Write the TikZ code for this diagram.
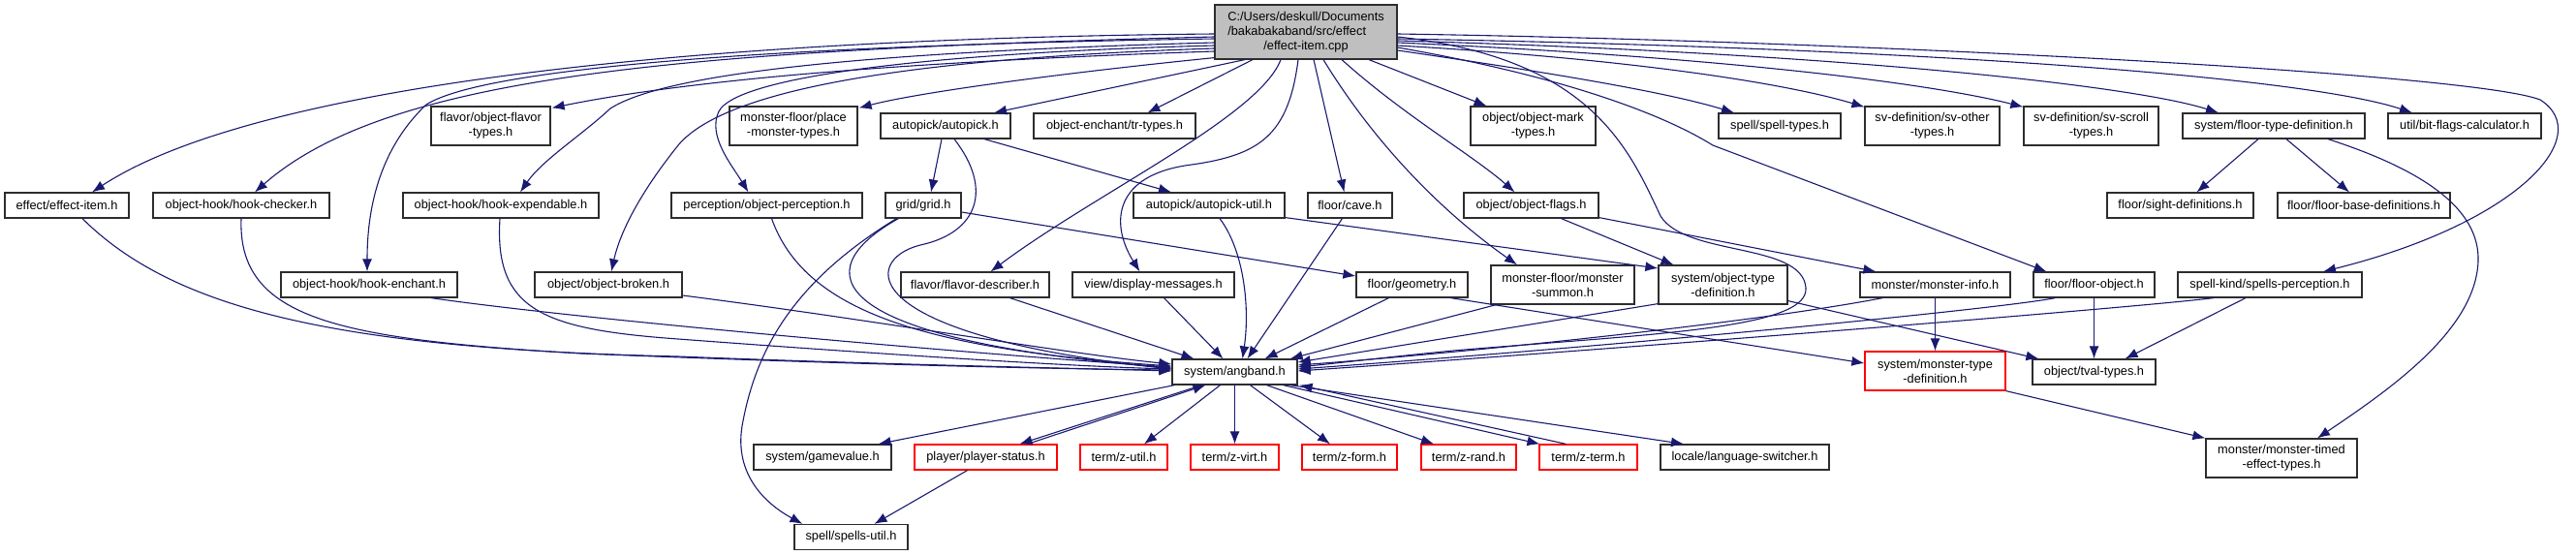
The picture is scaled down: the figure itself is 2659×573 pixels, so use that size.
\documentclass[tikz,border=0pt]{standalone}
\usepackage{fontspec}
\setmainfont{Liberation Sans}
\usetikzlibrary{calc,arrows.meta}
\definecolor{edgec}{RGB}{25,25,112}
\definecolor{boxline}{RGB}{45,45,45}
\definecolor{redline}{RGB}{255,0,0}
\definecolor{mainfill}{RGB}{191,191,191}
\newcommand{\dxfont}{\fontsize{12.8}{15}\selectfont}
\begin{document}
\begin{tikzpicture}[x=1pt,y=-1pt,
 box/.style={draw=boxline, line width=1.2pt, fill=white, inner sep=0pt, font=\dxfont, align=center, minimum height=26pt},
 tall/.style={minimum height=40pt},
 redbox/.style={box, draw=redline},
 dep/.style={draw=edgec, line width=1.1pt, -{Latex[length=13pt,width=10pt]}},
]
\useasboundingbox (0,0) rectangle (2659,573);

% ---------- nodes ----------
\node[box,fill=mainfill,minimum width=188pt,minimum height=56pt] (main) at (1348,33)
 {\begin{tabular}{@{}l@{}}C:/Users/deskull/Documents\\/bakabakaband/src/effect\\\multicolumn{1}{@{}c@{}}{/effect-item.cpp}\end{tabular}};

\node[box,tall,minimum width=123pt] (flavortypes) at (506.5,130) {flavor/object-flavor\\-types.h};
\node[box,tall,minimum width=132pt] (placemon) at (819,130) {monster-floor/place\\-monster-types.h};
\node[box,minimum width=134pt] (autopick) at (976,130) {autopick/autopick.h};
\node[box,minimum width=167pt] (trtypes) at (1150.5,130) {object-enchant/tr-types.h};
\node[box,tall,minimum width=129pt] (marktypes) at (1582.5,130) {object/object-mark\\-types.h};
\node[box,minimum width=126pt] (spelltypes) at (1837,130) {spell/spell-types.h};
\node[box,tall,minimum width=139pt] (svother) at (1994.5,130) {sv-definition/sv-other\\-types.h};
\node[box,tall,minimum width=139pt] (svscroll) at (2158.5,130) {sv-definition/sv-scroll\\-types.h};
\node[box,minimum width=188pt] (floortype) at (2347,130) {system/floor-type-definition.h};
\node[box,minimum width=158pt] (bitflags) at (2544,130) {util/bit-flags-calculator.h};

\node[box,minimum width=128pt] (effectitem) at (69,212) {effect/effect-item.h};
\node[box,minimum width=182pt] (hookchecker) at (249,212) {object-hook/hook-checker.h};
\node[box,minimum width=202pt] (hookexp) at (517,212) {object-hook/hook-expendable.h};
\node[box,minimum width=197pt] (objperc) at (791.5,212) {perception/object-perception.h};
\node[box,minimum width=78pt] (grid) at (953,212) {grid/grid.h};
\node[box,minimum width=156pt] (apkutil) at (1248,212) {autopick/autopick-util.h};
\node[box,minimum width=87pt] (cave) at (1393.5,212) {floor/cave.h};
\node[box,minimum width=139pt] (objflags) at (1580.5,212) {object/object-flags.h};
\node[box,minimum width=151pt] (sight) at (2250.5,212) {floor/sight-definitions.h};
\node[box,minimum width=178pt] (floorbase) at (2440,212) {floor/floor-base-definitions.h};

\node[box,minimum width=182pt] (hookenchant) at (381,294) {object-hook/hook-enchant.h};
\node[box,minimum width=152pt] (objbroken) at (628,294) {object/object-broken.h};
\node[box,minimum width=153pt] (flavordesc) at (1006.5,294) {flavor/flavor-describer.h};
\node[box,minimum width=167pt] (dispmsg) at (1190.5,294) {view/display-messages.h};
\node[box,minimum width=115pt] (geometry) at (1457.5,294) {floor/geometry.h};
\node[box,tall,minimum width=148pt] (monsummon) at (1613,294) {monster-floor/monster\\-summon.h};
\node[box,tall,minimum width=133pt] (objtypedef) at (1778.5,294) {system/object-type\\-definition.h};
\node[box,minimum width=155pt] (moninfo) at (1997.5,294) {monster/monster-info.h};
\node[box,minimum width=125pt] (floorobj) at (2161.5,294) {floor/floor-object.h};
\node[box,minimum width=190pt] (spellsperc) at (2343,294) {spell-kind/spells-perception.h};

\node[box,minimum width=129pt] (angband) at (1274.5,384) {system/angband.h};
\node[redbox,tall,minimum width=145pt] (montypedef) at (1997.5,383) {system/monster-type\\-definition.h};
\node[box,minimum width=127pt] (tval) at (2161.5,384) {object/tval-types.h};

\node[box,minimum width=142pt] (gamevalue) at (849,472) {system/gamevalue.h};
\node[redbox,minimum width=147pt] (playerstatus) at (1017.5,472) {player/player-status.h};
\node[redbox,minimum width=90pt] (zutil) at (1160,472) {term/z-util.h};
\node[redbox,minimum width=91pt] (zvirt) at (1274.5,472) {term/z-virt.h};
\node[redbox,minimum width=98pt] (zform) at (1393,472) {term/z-form.h};
\node[redbox,minimum width=98pt] (zrand) at (1516,472) {term/z-rand.h};
\node[redbox,minimum width=101pt] (zterm) at (1639.5,472) {term/z-term.h};
\node[box,minimum width=174pt] (langsw) at (1801,472) {locale/language-switcher.h};
\node[box,tall,minimum width=156pt] (montimed) at (2355,473) {monster/monster-timed\\-effect-types.h};

\node[box,minimum width=117pt] (spellsutil) at (878.5,554.5) {spell/spells-util.h};

% ---------- edges from main (left side) ----------
\draw[dep] ($(main.west)+(0,2)$) .. controls (700,40) and (260,90) .. ($(effectitem.north)+(26,0)$);
\draw[dep] ($(main.west)+(0,5)$) .. controls (700,52) and (400,78) .. ($(hookchecker.north)+(14,0)$);
\draw[dep] ($(main.west)+(0,7)$) .. controls (800,47) and (500,70) .. (440,108) .. controls (385,160) and (379,230) .. ($(hookenchant.north)+(-2,0)$);
\draw[dep] ($(main.west)+(0,11)$) .. controls (850,55) and (680,80) .. (630,112) .. controls (600,140) and (560,165) .. ($(hookexp.north)+(20,0)$);
\draw[dep] ($(main.west)+(0,14)$) .. controls (950,55) and (760,80) .. (742,115) .. controls (730,140) and (755,170) .. ($(objperc.north)+(-19,0)$);
\draw[dep] ($(main.west)+(0,17)$) .. controls (950,60) and (750,90) .. (700,150) .. controls (660,200) and (640,240) .. ($(objbroken.north)+(3,0)$);
\draw[dep] ($(main.west)+(0,20)$) .. controls (900,65) and (700,85) .. ($(flavortypes.north east)+(1,2)$);
\draw[dep] ($(main.south west)+(0,-2)$) .. controls (1100,75) and (950,95) .. ($(placemon.north east)+(1,2)$);

% ---------- edges from main (bottom) ----------
\draw[dep] ($(main.south)+(-63,0)$) -- ($(autopick.north)+(50,0)$);
\draw[dep] ($(main.south)+(-55,0)$) -- ($(trtypes.north)+(34,0)$);
\draw[dep] ($(main.south)+(-26,0)$) .. controls (1300,120) and (1130,200) .. ($(flavordesc.north)+(16,0)$);
\draw[dep] ($(main.south)+(-8,0)$) .. controls (1330,140) and (1300,160) .. (1230,170) .. controls (1150,180) and (1145,230) .. ($(dispmsg.north)+(-14,0)$);
\draw[dep] ($(main.south)+(8,0)$) -- ($(cave.north)+(-6,0)$);
\draw[dep] ($(main.south)+(18,0)$) .. controls (1420,150) and (1490,220) .. ($(monsummon.north)+(-47,0)$);
\draw[dep] ($(main.south)+(37,0)$) .. controls (1450,120) and (1520,160) .. ($(objflags.north)+(-17,0)$);
\draw[dep] ($(main.south)+(65,0)$) -- ($(marktypes.north)+(-48,0)$);

% ---------- edges from main (right side) ----------
\draw[dep] ($(main.east)+(0,19)$) .. controls (1600,75) and (1720,95) .. ($(spelltypes.north)+(-47,0)$);
\draw[dep] ($(main.east)+(0,16)$) .. controls (1620,80) and (1720,120) .. (1768,150) -- ($(floorobj.north)+(-49,0)$);
\draw[dep] ($(main.east)+(0,14)$) .. controls (1700,62) and (1850,88) .. ($(svother.north west)+(0,1)$);
\draw[dep] ($(main.east)+(0,11)$) .. controls (1800,60) and (2000,88) .. ($(svscroll.north west)+(0,1)$);
\draw[dep] ($(main.east)+(0,9)$) .. controls (1900,55) and (2200,88) .. ($(floortype.north)+(-57,0)$);
\draw[dep] ($(main.east)+(0,7)$) .. controls (2000,50) and (2380,80) .. ($(bitflags.north)+(-54,0)$);
\draw[dep] ($(main.east)+(0,2)$) .. controls (1900,42) and (2550,75) .. (2622,103) .. controls (2680,140) and (2600,230) .. ($(spellsperc.north)+(55,0)$);
\draw[dep] ($(main.east)+(0,5)$) .. controls (1640,60) and (1680,150) .. (1714,223) .. controls (1740,265) and (1860,250) .. (1864,297) .. controls (1868,340) and (1700,345) .. (1500,362) .. controls (1420,370) and (1380,375) .. ($(angband.east)+(0,-5)$);

% ---------- second level ----------
\draw[dep] ($(autopick.south)+(-4,0)$) -- ($(grid.north)+(8,0)$);
\draw[dep] ($(autopick.south)+(40,0)$) -- ($(apkutil.north)+(-39,0)$);
\draw[dep] ($(autopick.south)+(9,0)$) .. controls (1025,195) and (1010,240) .. (950,253) .. controls (890,268) and (880,345) .. ($(angband.west)+(0,-3)$);
\draw[dep] ($(grid.south west)+(14,0)$) .. controls (830,280) and (850,350) .. ($(angband.west)+(0,-4)$);
\draw[dep] ($(grid.south west)+(12,0)$) .. controls (820,290) and (780,360) .. (766,440) .. controls (758,490) and (790,520) .. ($(spellsutil.north west)+(9,0)$);
\draw[dep] ($(grid.east)+(0,7)$) -- ($(geometry.west)+(0,-9)$);

\draw[dep] ($(effectitem.south)+(16,0)$) .. controls (180,320) and (350,360) .. (700,368) .. controls (900,376) and (1100,380) .. ($(angband.west)+(0,-1)$);
\draw[dep] (hookchecker.south) .. controls (245,330) and (350,350) .. (600,365) .. controls (900,377) and (1100,381) .. ($(angband.west)+(0,-2)$);
\draw[dep] ($(hookenchant.south)+(64,0)$) .. controls (600,330) and (1000,365) .. ($(angband.west)+(0,-5)$);
\draw[dep] ($(hookexp.south)+(-1,0)$) .. controls (510,320) and (560,340) .. (700,350) .. controls (900,365) and (1100,378) .. ($(angband.west)+(0,-3)$);
\draw[dep] ($(objperc.south)+(5,0)$) .. controls (830,320) and (950,360) .. ($(angband.west)+(0,-6)$);
\draw[dep] ($(objbroken.east)+(0,11)$) .. controls (900,330) and (1100,365) .. ($(angband.west)+(0,-8)$);

\draw[dep] ($(flavordesc.south)+(36,0)$) -- ($(angband.north)+(-42,0)$);
\draw[dep] ($(dispmsg.south)+(11,0)$) -- ($(angband.north)+(-12,0)$);
\draw[dep] ($(apkutil.south)+(11,0)$) .. controls (1285,260) and (1290,320) .. ($(angband.north)+(8,0)$);
\draw[dep] ($(cave.south)+(-8,0)$) -- ($(angband.north)+(13,0)$);
\draw[dep] ($(geometry.south)+(-24,0)$) -- ($(angband.north)+(31,0)$);
\draw[dep] ($(geometry.south)+(40,0)$) -- ($(montypedef.west)+(0,-8)$);
\draw[dep] ($(monsummon.south west)+(6,0)$) -- ($(angband.north east)+(-8,0)$);
\draw[dep] ($(objtypedef.south west)+(0,-1)$) -- ($(angband.east)+(0,-10)$);
\draw[dep] ($(objtypedef.south east)+(0,-4)$) -- ($(tval.north west)+(7,0)$);
\draw[dep] ($(objflags.south)+(31,0)$) -- ($(objtypedef.north)+(-51,0)$);
\draw[dep] ($(objflags.south east)+(0,-1)$) -- ($(moninfo.north west)+(17,0)$);
\draw[dep] ($(apkutil.south east)+(0,-1)$) -- ($(objtypedef.west)+(0,-17)$);
\draw[dep] (moninfo.south) -- (montypedef.north);
\draw[dep] ($(moninfo.south west)+(24,0)$) .. controls (1800,335) and (1500,365) .. ($(angband.east)+(0,-7)$);
\draw[dep] (floorobj.south) -- (tval.north);
\draw[dep] ($(floorobj.south)+(-40,0)$) .. controls (2070,318) and (1700,355) .. ($(angband.east)+(0,-3)$);
\draw[dep] ($(spellsperc.south)+(-25,0)$) -- ($(tval.north east)+(-32,0)$);
\draw[dep] ($(spellsperc.south)+(-58,0)$) .. controls (2200,318) and (1700,358) .. ($(angband.east)+(0,-1)$);
\draw[dep] (montypedef.south east) -- (montimed.north west);
\draw[dep] ($(floortype.south)+(-16,0)$) -- ($(sight.north)+(17,0)$);
\draw[dep] ($(floortype.south)+(13,0)$) -- ($(floorbase.north)+(-15,0)$);
\draw[dep] ($(floortype.south)+(56,0)$) .. controls (2500,175) and (2560,215) .. (2558,270) .. controls (2555,340) and (2470,400) .. ($(montimed.north)+(37,0)$);

% ---------- from angband ----------
\draw[dep] ($(angband.south west)+(3,0)$) -- ($(gamevalue.north east)+(-14,0)$);
\draw[dep] ($(angband.south)+(-34,0)$) -- ($(playerstatus.north)+(35,0)$);
\draw[dep] ($(playerstatus.north)+(43,0)$) -- ($(angband.south)+(-30,0)$);
\draw[dep] ($(angband.south)+(-15,0)$) -- ($(zutil.north)+(21,0)$);
\draw[dep] (angband.south) -- (zvirt.north);
\draw[dep] ($(angband.south)+(16,0)$) -- ($(zform.north)+(-20,0)$);
\draw[dep] ($(angband.south)+(33,0)$) -- ($(zrand.north)+(-36,0)$);
\draw[dep] ($(angband.south)+(50,0)$) -- ($(zterm.north west)+(1,0)$);
\draw[dep] ($(zterm.north)+(-23,0)$) -- ($(angband.south east)+(2,0)$);
\draw[dep] ($(angband.south east)+(-8,0)$) -- ($(langsw.north)+(-63,0)$);
\draw[dep] ($(playerstatus.south)+(-19,0)$) -- ($(spellsutil.north)+(24,0)$);
\end{tikzpicture}
\end{document}
